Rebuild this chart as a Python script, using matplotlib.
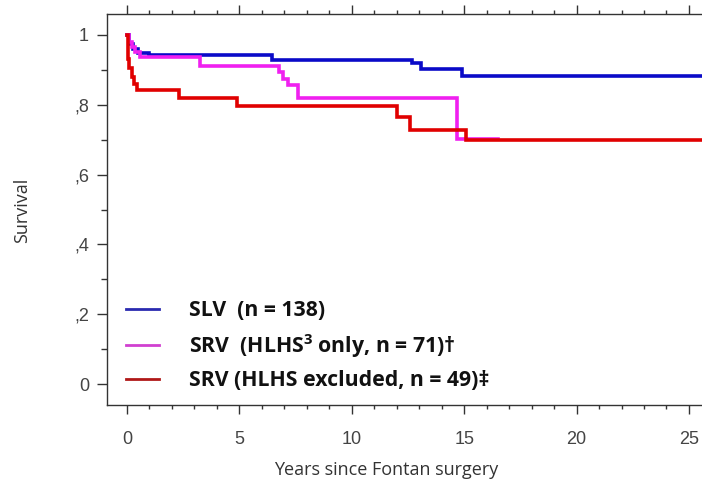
import matplotlib
matplotlib.use("Agg")
import matplotlib.pyplot as plt
from matplotlib.lines import Line2D
from matplotlib.ticker import MultipleLocator

# Data (step Kaplan-Meier curves)
slv_t = [0, 0.1, 0.25, 0.5, 1.0, 6.45, 12.7, 13.1, 14.9, 25.6]
slv_s = [1.0, 0.975, 0.96, 0.948, 0.942, 0.927, 0.92, 0.903, 0.883, 0.883]

hlhs_t = [0, 0.1, 0.2, 0.35, 0.6, 3.25, 6.75, 6.95, 7.15, 7.6, 14.7, 16.5]
hlhs_s = [1.0, 0.98, 0.965, 0.95, 0.938, 0.91, 0.893, 0.875, 0.856, 0.82, 0.702, 0.702]

excl_t = [0, 0.05, 0.1, 0.2, 0.3, 0.45, 2.3, 4.9, 12.0, 12.6, 15.1, 25.6]
excl_s = [1.0, 0.93, 0.905, 0.88, 0.86, 0.842, 0.82, 0.797, 0.765, 0.728, 0.70, 0.70]

labels = ["SLV  (n = 138)", "SRV  (HLHS$^{3}$ only, n = 71)\u2020", "SRV (HLHS excluded, n = 49)\u2021"]
colors = ["#0a0ac8", "#f020f0", "#e00000"]
legend_colors = ["#2a2ab0", "#d040d0", "#b01818"]

x_ticks = [0, 5, 10, 15, 20, 25]
y_ticks = [0, 0.2, 0.4, 0.6, 0.8, 1.0]
y_tick_labels = ["0", ",2", ",4", ",6", ",8", "1"]

plt.rcParams["mathtext.fontset"] = "custom"
plt.rcParams["mathtext.rm"] = "Open Sans:bold"
plt.rcParams["mathtext.default"] = "rm"

fig = plt.figure(figsize=(7.02, 4.83), dpi=100)
ax = fig.add_axes([107/702, 1 - 405/483, 1 - 107/702, (405 - 14)/483])

for t, s, c in zip([slv_t, hlhs_t, excl_t], [slv_s, hlhs_s, excl_s], colors):
    ax.step(t, s, where="post", color=c, lw=2.6, solid_joinstyle="miter")

ax.set_xlim(-0.89, 25.58)
ax.set_ylim(-0.06, 1.06)

ax.spines["right"].set_visible(False)
for sp in ["left", "top", "bottom"]:
    ax.spines[sp].set_color("#333333")
    ax.spines[sp].set_linewidth(1.0)

ax.set_xticks(x_ticks)
ax.set_xticklabels([str(v) for v in x_ticks])
ax.xaxis.set_minor_locator(MultipleLocator(1))
ax.set_yticks(y_ticks)
ax.set_yticklabels(y_tick_labels)
ax.yaxis.set_minor_locator(MultipleLocator(0.1))

ax.tick_params(axis="x", which="major", direction="out", length=6.5, width=1.0,
               top=True, bottom=True, color="#333333", labelsize=13,
               labelcolor="#444444", pad=12)
ax.tick_params(axis="x", which="minor", direction="out", length=3, width=1.0,
               top=True, bottom=True, color="#333333")
ax.tick_params(axis="y", which="major", direction="out", length=7, width=1.0,
               color="#333333", labelsize=13, labelcolor="#444444", pad=6)
ax.tick_params(axis="y", which="minor", direction="out", length=4.5, width=1.0,
               color="#333333")
for lab in ax.get_xticklabels() + ax.get_yticklabels():
    lab.set_family(["Liberation Sans", "DejaVu Sans"])

fig.text(386/702, 1 - 470/483, "Years since Fontan surgery", ha="center", va="center",
         fontsize=13, color="#333333", family=["Open Sans", "DejaVu Sans"])
fig.text(22/702, 1 - 210/483, "Survival", ha="center", va="center", rotation=90,
         fontsize=13, color="#333333", family=["Open Sans", "DejaVu Sans"])

handles = [Line2D([0], [0], color=c, lw=2.0) for c in legend_colors]
leg = ax.legend(handles, labels, loc="upper left",
                bbox_to_anchor=(126/702, 1 - 300/483), bbox_transform=fig.transFigure,
                frameon=False, borderpad=0, borderaxespad=0,
                handlelength=1.55, handletextpad=1.4, labelspacing=0.5,
                prop={"family": ["Open Sans", "DejaVu Sans"], "weight": "bold", "size": 15.3})
for txt in leg.get_texts():
    txt.set_color("#111111")

fig.savefig("out.png", dpi=100)
